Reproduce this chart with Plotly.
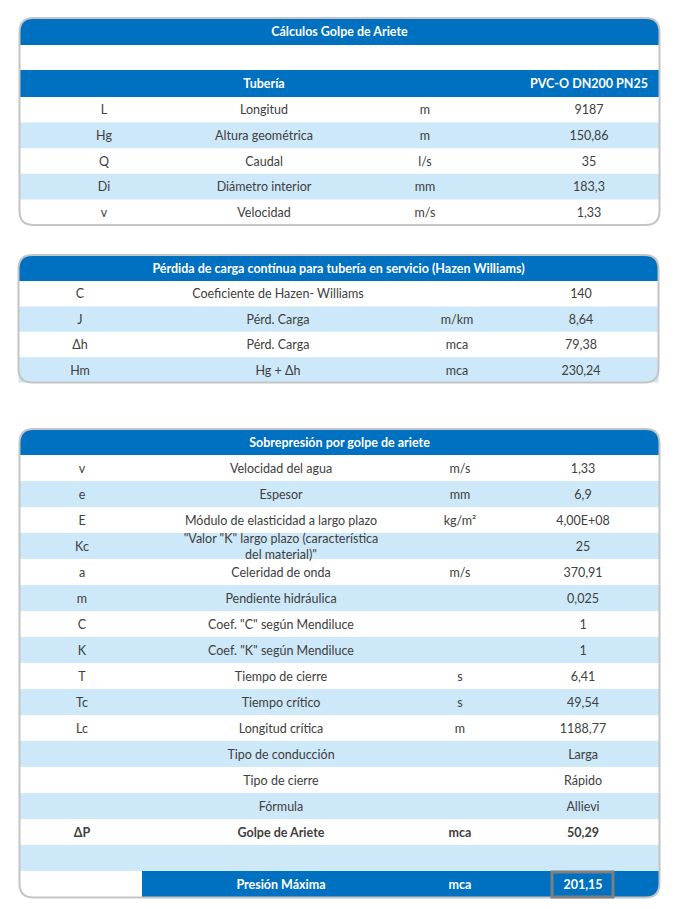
import plotly.graph_objects as go

# ---- data ----
titulo1 = "Cálculos Golpe de Ariete"
sub1 = ["", "Tubería", "", "PVC-O DN200 PN25"]
t1_sim = ["L", "Hg", "Q", "Di", "v"]
t1_desc = ["Longitud", "Altura geométrica", "Caudal", "Diámetro interior", "Velocidad"]
t1_unid = ["m", "m", "l/s", "mm", "m/s"]
t1_val = ["9187", "150,86", "35", "183,3", "1,33"]

titulo2 = "Pérdida de carga contínua para tubería en servicio (Hazen Williams)"
t2_sim = ["C", "J", "Δh", "Hm"]
t2_desc = ["Coeficiente de Hazen- Williams", "Pérd. Carga", "Pérd. Carga", "Hg + Δh"]
t2_unid = ["", "m/km", "mca", "mca"]
t2_val = ["140", "8,64", "79,38", "230,24"]

titulo3 = "Sobrepresión por golpe de ariete"
t3_sim = ["v", "e", "E", "Kc", "a", "m", "C", "K", "T", "Tc", "Lc", "", "", "", "ΔP", "", ""]
t3_desc = ["Velocidad del agua", "Espesor", "Módulo de elasticidad a largo plazo",
           "\"Valor \"K\" largo plazo (característica<br>del material)\"",
           "Celeridad de onda", "Pendiente hidráulica", "Coef. \"C\" según Mendiluce",
           "Coef. \"K\" según Mendiluce", "Tiempo de cierre", "Tiempo crítico",
           "Longitud crítica", "Tipo de conducción", "Tipo de cierre", "Fórmula",
           "Golpe de Ariete", "", "Presión Máxima"]
t3_unid = ["m/s", "mm", "kg/m²", "", "m/s", "", "", "", "s", "s", "m", "", "", "", "mca", "", "mca"]
t3_val = ["1,33", "6,9", "4,00E+08", "25", "370,91", "0,025", "1", "1", "6,41", "49,54",
          "1188,77", "Larga", "Rápido", "Allievi", "50,29", "", "201,15"]

# ---- style ----
W, H = 683, 909
OFF = 8  # page body margin
DY = 1.5  # text baseline nudge
BLUE = "#0070C0"
LIGHT = "#CDE8F8"
TXT = "#404040"
BORDER = "#C4C4C4"
FONT = "Lato"
FS = 12.5


def rpath(x0, y0, x1, y1, r, tl=True, tr=True, br=True, bl=True):
    p = f"M{x0 + (r if tl else 0)},{y0} L{x1 - (r if tr else 0)},{y0}"
    if tr:
        p += f" Q{x1},{y0} {x1},{y0 + r}"
    p += f" L{x1},{y1 - (r if br else 0)}"
    if br:
        p += f" Q{x1},{y1} {x1 - r},{y1}"
    p += f" L{x0 + (r if bl else 0)},{y1}"
    if bl:
        p += f" Q{x0},{y1} {x0},{y1 - r}"
    p += f" L{x0},{y0 + (r if tl else 0)}"
    if tl:
        p += f" Q{x0},{y0} {x0 + r},{y0}"
    return p + " Z"


shapes = []
xs, ys, txt, cols = [], [], [], []


def add_text(x, y, s, c=TXT):
    if s:
        xs.append(x)
        ys.append(y + DY)
        txt.append(s)
        cols.append(c)


def rect(x0, y0, x1, y1, color):
    shapes.append(dict(type="rect", xref="x", yref="y", x0=x0, x1=x1, y0=y0, y1=y1,
                       fillcolor=color, line_width=0, layer="below"))


def outline(box):
    shapes.append(dict(type="path", xref="x", yref="y", path=rpath(*box, 14),
                       line=dict(color=BORDER, width=2), layer="below"))


def table(box, head_h, title, rows_top, row_h, colx, columns, bold_rows=(), sub=None):
    x0, y0, x1, y1 = box
    shapes.append(dict(type="path", xref="x", yref="y", path=rpath(x0, y0, x1, y1, 14),
                       fillcolor="white", line_width=0, layer="below"))
    shapes.append(dict(type="path", xref="x", yref="y",
                       path=rpath(x0, y0, x1, y0 + head_h, 14, bl=False, br=False),
                       fillcolor=BLUE, line_width=0, layer="below"))
    add_text((x0 + x1) / 2, y0 + head_h / 2, f"<b>{title}</b>", "white")
    if sub is not None:
        sy0, sy1, labels = sub
        rect(x0, sy0, x1, sy1, BLUE)
        for cx, s in zip(colx, labels):
            add_text(cx, (sy0 + sy1) / 2, f"<b>{s}</b>" if s else "", "white")
    for i in range(len(columns[0])):
        ry0 = rows_top + i * row_h
        if i % 2 == 1:
            rect(x0, ry0, x1, ry0 + row_h, LIGHT)
        for cx, col in zip(colx, columns):
            s = col[i]
            if s and i in bold_rows:
                s = f"<b>{s}</b>"
            add_text(cx, ry0 + row_h / 2, s)


# table 1
box1 = (19.5, 18, 659.5, 225)
table(box1, 27, titulo1, 97, 25.6, [104, 264, 425, 589],
      [t1_sim, t1_desc, t1_unid, t1_val], sub=(70, 97, sub1))
outline(box1)

# table 2
box2 = (18.5, 255, 658.5, 382.5)
table(box2, 26, titulo2, 281, 25.4, [80, 278, 457, 581],
      [t2_sim, t2_desc, t2_unid, t2_val])
outline(box2)

# table 3 (last row drawn apart)
box3 = (19.5, 429, 659.5, 897.5)
n3 = len(t3_sim)
colx3 = [82, 281, 460, 583]
table(box3, 26, titulo3, 455, 26, colx3,
      [t3_sim[:-1], t3_desc[:-1], t3_unid[:-1], t3_val[:-1]], bold_rows=(n3 - 3,))
ly0 = 455 + (n3 - 1) * 26
shapes.append(dict(type="path", xref="x", yref="y",
                   path=rpath(142, ly0, 659.5, 897.5, 14, tl=False, tr=False, bl=False),
                   fillcolor=BLUE, line_width=0, layer="below"))
for cx, s in zip(colx3[1:], [t3_desc[-1], t3_unid[-1], t3_val[-1]]):
    add_text(cx, ly0 + 13, f"<b>{s}</b>", "white")
outline(box3)
shapes.append(dict(type="rect", xref="x", yref="y", x0=552, x1=613, y0=ly0 + 1, y1=897,
                   line=dict(color="#7F7F7F", width=3), fillcolor="rgba(0,0,0,0)"))

fig = go.Figure(go.Scatter(x=xs, y=ys, text=txt, mode="text",
                           textfont=dict(family=FONT, size=FS, color=cols),
                           hoverinfo="skip"))
fig.update_layout(width=W - OFF, height=H - OFF, margin=dict(l=0, r=0, t=0, b=0),
                  paper_bgcolor="white", plot_bgcolor="white", shapes=shapes,
                  showlegend=False)
fig.update_xaxes(range=[OFF, W], visible=False, fixedrange=True)
fig.update_yaxes(range=[H, OFF], visible=False, fixedrange=True)
fig.write_html("out.html", config={"displayModeBar": False})
